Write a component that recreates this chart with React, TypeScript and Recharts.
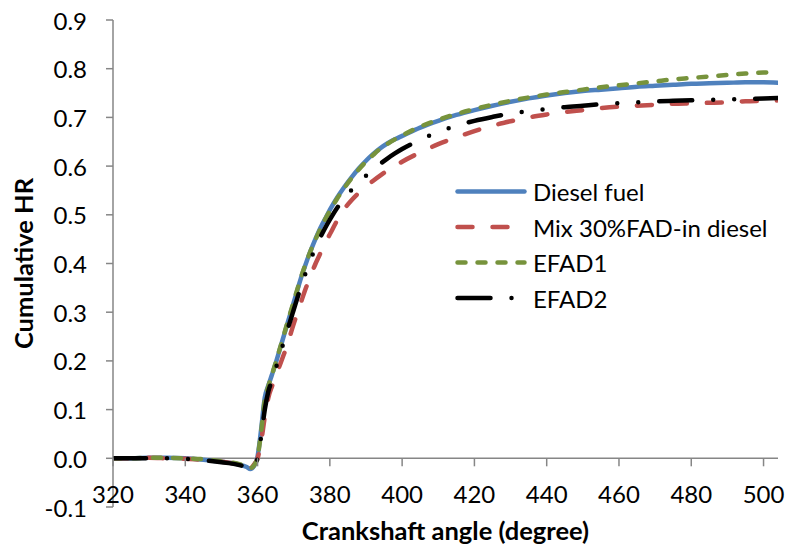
import React from "react";
import { LineChart, Line, XAxis, YAxis, ReferenceLine, Legend } from "recharts";

const angles = [
  320, 325, 330, 335, 340, 345,
  350, 353, 355, 357, 358, 359,
  360, 361, 362, 363, 364, 365, 366, 367, 368, 369, 370, 371, 372, 373, 374, 375, 376, 377, 378, 379, 380,
  382, 384, 386, 388, 390, 392, 394, 396, 398, 400,
  405, 410, 415, 420, 425, 430, 435, 440, 445, 450, 455, 460, 465, 470, 475, 480, 485, 490, 495, 500,
  504,
];

const dieselFuel = [
  0, 0, 0.001, 0.001, 0, -0.003,
  -0.007, -0.01, -0.013, -0.018, -0.022, -0.016,
  0.004, 0.06, 0.125, 0.15, 0.172, 0.195, 0.22, 0.245, 0.27, 0.295, 0.32, 0.345, 0.37, 0.392, 0.413, 0.432, 0.45, 0.467, 0.482, 0.496, 0.51,
  0.535, 0.557, 0.577, 0.595, 0.611, 0.625, 0.637, 0.647, 0.655, 0.662,
  0.679, 0.693, 0.705, 0.715, 0.724, 0.732, 0.739, 0.745, 0.75, 0.754, 0.757, 0.76, 0.763, 0.765, 0.767, 0.769, 0.77, 0.771, 0.772, 0.772,
  0.771,
];

const mix30 = [
  0, 0, 0.001, 0, -0.001, -0.003,
  -0.007, -0.01, -0.013, -0.017, -0.02, -0.013,
  0, 0.035, 0.085, 0.125, 0.148, 0.168, 0.188, 0.208, 0.228, 0.252, 0.276, 0.298, 0.32, 0.342, 0.362, 0.381, 0.399, 0.415, 0.431, 0.446, 0.46,
  0.488, 0.512, 0.53, 0.545, 0.558, 0.57, 0.581, 0.591, 0.6, 0.609,
  0.628, 0.645, 0.659, 0.672, 0.683, 0.692, 0.7, 0.706, 0.711, 0.715, 0.719, 0.722, 0.724, 0.726, 0.728, 0.729, 0.73, 0.731, 0.733, 0.734,
  0.735,
];

const efad1 = [
  0, 0, 0.001, 0.001, 0, -0.002,
  -0.006, -0.009, -0.012, -0.017, -0.02, -0.015,
  0.003, 0.055, 0.12, 0.148, 0.172, 0.196, 0.221, 0.246, 0.272, 0.297, 0.322, 0.347, 0.371, 0.393, 0.413, 0.432, 0.449, 0.465, 0.481, 0.495, 0.508,
  0.533, 0.555, 0.575, 0.593, 0.609, 0.623, 0.636, 0.646, 0.655, 0.663,
  0.681, 0.695, 0.707, 0.717, 0.726, 0.734, 0.741, 0.747, 0.752, 0.757, 0.762, 0.766, 0.77, 0.774, 0.778, 0.781, 0.784, 0.787, 0.79, 0.792,
  0.793,
];

const efad2 = [
  0, 0, 0, 0, -0.001, -0.004,
  -0.008, -0.011, -0.014, -0.018, -0.021, -0.015,
  0, 0.045, 0.1, 0.138, 0.16, 0.184, 0.207, 0.233, 0.258, 0.281, 0.305, 0.329, 0.352, 0.374, 0.395, 0.414, 0.432, 0.448, 0.463, 0.477, 0.49,
  0.514, 0.534, 0.551, 0.566, 0.58, 0.593, 0.605, 0.616, 0.626, 0.635,
  0.654, 0.67, 0.683, 0.693, 0.701, 0.708, 0.713, 0.717, 0.721, 0.724, 0.727, 0.729, 0.731, 0.733, 0.734, 0.735, 0.736, 0.737, 0.738, 0.739,
  0.74,
];

const xTicks = [320, 340, 360, 380, 400, 420, 440, 460, 480, 500];
const yTicks = [-0.1, 0, 0.1, 0.2, 0.3, 0.4, 0.5, 0.6, 0.7, 0.8, 0.9];
const seriesNames = ["Diesel fuel", "Mix 30%FAD-in diesel", "EFAD1", "EFAD2"];
const xTitle = "Crankshaft angle (degree)";
const yTitle = "Cumulative HR";

const data = angles.map((a, i) => ({
  x: a,
  s0: dieselFuel[i],
  s1: mix30[i],
  s2: efad1[i],
  s3: efad2[i],
}));

const SERIES = [
  { key: "s0", name: seriesNames[0], color: "#4F81BD", dash: undefined as string | undefined },
  { key: "s1", name: seriesNames[1], color: "#C0504D", dash: "15 20" },
  { key: "s2", name: seriesNames[2], color: "#77933C", dash: "8 12" },
  { key: "s3", name: seriesNames[3], color: "#000000", dash: "33 21 0 21 0 21" },
];

const W = 789;
const H = 549;
const M_TOP = 20;
const M_RIGHT = 11;
const Y_AXIS_W = 113;
const X_AXIS_H = 42;
const Y_MIN = -0.1;
const Y_MAX = 0.9;
const PLOT_H = H - M_TOP - X_AXIS_H;
const ZERO_FROM_BOTTOM = ((0 - Y_MIN) / (Y_MAX - Y_MIN)) * PLOT_H;
const FONT = "Lato, 'Open Sans', sans-serif";
const AXIS_COLOR = "#868686";
const LW = 4.5;
const TICK_FS = 24;
const TITLE_FS = 25.5;

const XTick = (props: any) => {
  const { x, y, payload } = props;
  const y0 = y - ZERO_FROM_BOTTOM;
  return (
    <g>
      <line x1={x} x2={x} y1={y0} y2={y0 + 8} stroke={AXIS_COLOR} strokeWidth={1.5} />
      <text x={x} y={y - 14} textAnchor="middle" dominantBaseline="central" fontFamily={FONT} fontSize={TICK_FS} fill="#000">
        {payload.value}
      </text>
    </g>
  );
};

const YTick = (props: any) => {
  const { x, y, payload } = props;
  return (
    <text x={x} y={y} textAnchor="end" dominantBaseline="central" fontFamily={FONT} fontSize={TICK_FS} fill="#000">
      {Number(payload.value).toFixed(1)}
    </text>
  );
};

const LegendContent = () => {
  const rowY = (i: number) => 21.5 + i * 35.5;
  return (
    <svg width={340} height={150} style={{ display: "block" }}>
      {SERIES.map((s, i) => (
        <g key={s.key}>
          <line
            x1={7.5}
            x2={74.5}
            y1={rowY(i)}
            y2={rowY(i)}
            stroke={s.color}
            strokeWidth={LW}
            strokeLinecap="round"
            strokeDasharray={s.dash}
          />
          <text x={83} y={rowY(i)} dominantBaseline="central" fontFamily={FONT} fontSize={24} fill="#000">
            {s.name}
          </text>
        </g>
      ))}
    </svg>
  );
};

export default function App() {
  return (
    <div style={{ position: "absolute", left: 0, top: 0, width: W, height: H, background: "#fff" }}>
      <LineChart width={W} height={H} data={data} margin={{ top: M_TOP, right: M_RIGHT, bottom: 0, left: 0 }}>
        <XAxis
          dataKey="x"
          type="number"
          domain={[320, 504]}
          ticks={xTicks}
          allowDataOverflow
          height={X_AXIS_H}
          axisLine={false}
          tickLine={false}
          tickSize={0}
          tickMargin={0}
          tick={<XTick />}
          interval={0}
          label={{
            content: (p: any) => {
              const vb = p.viewBox || {};
              return (
                <text
                  x={vb.x + vb.width / 2}
                  y={530}
                  textAnchor="middle"
                  dominantBaseline="central"
                  fontFamily={FONT}
                  fontWeight="bold"
                  fontSize={TITLE_FS}
                  fill="#000"
                >
                  {xTitle}
                </text>
              );
            },
          }}
        />
        <YAxis
          type="number"
          domain={[Y_MIN, Y_MAX]}
          ticks={yTicks}
          allowDataOverflow
          width={Y_AXIS_W}
          axisLine={{ stroke: AXIS_COLOR, strokeWidth: 1.5 }}
          tickLine={{ stroke: AXIS_COLOR, strokeWidth: 1.5 }}
          tickSize={7}
          tickMargin={19}
          tick={<YTick />}
          interval={0}
          label={{
            content: (p: any) => {
              const vb = p.viewBox || {};
              const cy = vb.y + vb.height / 2;
              return (
                <text
                  transform={`translate(23, ${cy}) rotate(-90)`}
                  textAnchor="middle"
                  dominantBaseline="central"
                  fontFamily={FONT}
                  fontWeight="bold"
                  fontSize={TITLE_FS}
                  fill="#000"
                >
                  {yTitle}
                </text>
              );
            },
          }}
        />
        <ReferenceLine y={0} stroke={AXIS_COLOR} strokeWidth={1.5} />
        {SERIES.map((s) => (
          <Line
            key={s.key}
            dataKey={s.key}
            name={s.name}
            type="monotone"
            stroke={s.color}
            strokeWidth={LW}
            strokeDasharray={s.dash}
            strokeLinecap="round"
            dot={false}
            activeDot={false}
            isAnimationActive={false}
          />
        ))}
        <Legend
          layout="horizontal"
          verticalAlign="middle"
          align="center"
          content={<LegendContent />}
          wrapperStyle={{ position: "absolute", left: 450, top: 170, width: 340, height: 150 }}
        />
      </LineChart>
    </div>
  );
}
